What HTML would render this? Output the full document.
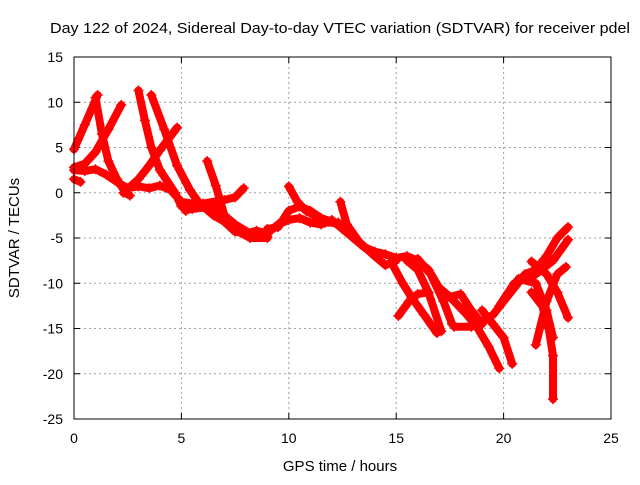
<!DOCTYPE html>
<html><head><meta charset="utf-8"><style>
body{margin:0;background:#fff;width:640px;height:480px;overflow:hidden}
svg{font-family:"Liberation Sans",sans-serif}
</style></head><body>
<svg id="chart" width="640" height="480">
<text x="340" y="33" font-size="15" text-anchor="middle" textLength="580" lengthAdjust="spacingAndGlyphs">Day 122 of 2024, Sidereal Day-to-day VTEC variation (SDTVAR) for receiver pdel</text>
<text x="340" y="471" font-size="15" text-anchor="middle">GPS time / hours</text>
<text transform="translate(19,238) rotate(-90)" font-size="15" text-anchor="middle">SDTVAR / TECUs</text>
<g id="grid"></g><g id="ticks"></g><g id="marks"></g>
<rect x="74" y="57" width="537" height="362" fill="none" stroke="#000"/>
</svg>
<script>
const xTicks=[0,5,10,15,20,25];
const yTicks=[15,10,5,0,-5,-10,-15,-20,-25];
const tracks=[
[[0,4.8],[0.5,7.5],[1.1,10.8]],
[[1.0,10.5],[1.3,6.5],[1.6,3.5],[2.0,1.5],[2.4,0],[2.6,-0.3]],
[[0,2.8],[0.5,3.2],[1.0,4.5],[1.6,7],[2.2,9.7]],
[[3.0,11.3],[3.3,8],[3.6,5],[4.0,2.5],[4.7,0],[5.0,-1.5],[5.5,-1.8],[6.5,-1.5],[7.5,-3.5],[8.2,-4.5],[9.0,-4.8]],
[[3.6,10.8],[4.2,7],[4.8,3],[5.4,0.3],[5.9,-1.4],[6.5,-2],[7.3,-3.5],[8,-4.5]],
[[2.3,0],[3,1.5],[3.5,3],[4,4.7],[4.8,7.2]],
[[0,2.5],[0.5,2.4],[1,2.6],[1.5,2],[2,1.2],[2.5,0.5],[3,0.7],[3.5,0.5],[4,0.8],[4.5,0.3],[5,-1],[5.5,-1.2],[6,-1.5],[6.5,-2.5],[7,-3.2],[7.5,-4.3],[8,-4.5],[8.5,-4.2],[9,-4.5],[9.5,-3.5],[10,-3],[10.5,-2.8],[11,-3.3],[11.5,-3.5],[12,-3],[12.5,-4],[13,-5],[13.5,-6],[14,-6.5],[14.5,-6.8],[15,-7.2],[15.5,-7],[16,-7.5],[16.5,-8.5],[17,-10.5],[17.5,-11.5],[18,-11.2],[18.5,-13],[19,-14.5]],
[[6.2,3.5],[6.6,0.8],[7,-2.5],[7.5,-4.1],[8.2,-5],[9,-5]],
[[5.2,-2],[6,-1.2],[7,-0.8],[7.5,-0.5],[7.9,0.5]],
[[0,1.5],[0.3,1.2]],
[[10,0.7],[10.4,-1],[10.8,-2],[11.2,-2.5],[11.7,-3.3],[12.3,-3.3]],
[[9,-4],[9.5,-3.8],[10,-2],[10.5,-1.5],[11,-2],[11.5,-2.8],[12,-3.2],[12.5,-3.8]],
[[12.4,-1],[12.7,-3.5],[13.3,-5.5],[14,-7],[14.5,-8],[15,-7.5]],
[[14.8,-7.8],[15.3,-10],[15.7,-11.5],[16.3,-13.5],[16.9,-15.5]],
[[15.1,-13.6],[15.6,-12],[16,-11.2],[16.5,-11]],
[[15.5,-7.5],[16,-8.5],[16.5,-11],[17.1,-15.3]],
[[16,-7.3],[16.6,-9],[17.2,-12],[17.6,-14.5]],
[[17.5,-11.5],[18.3,-13.5],[18.8,-15],[19.3,-17],[19.8,-19.4]],
[[19.0,-13],[19.5,-14.5],[20,-16],[20.4,-18.9]],
[[17.7,-14.8],[18.5,-14.8],[19.5,-13.5],[20.5,-10.5],[21,-9],[21.5,-8.5],[22,-7],[22.5,-5],[23,-3.8]],
[[19.8,-12.5],[20.5,-10],[21.5,-9],[22.3,-7.5],[23,-5.2]],
[[21.3,-7.6],[22,-9],[22.5,-11],[23,-13.8]],
[[21.5,-16.8],[22,-12],[22.5,-9],[22.9,-8.2]],
[[21.3,-11],[21.8,-12.5],[22.1,-15],[22.3,-18],[22.3,-22.8]],
[[20.7,-9.5],[21.5,-10],[22,-13],[22.3,-16]]
];
const X=t=>74+(t-0)*537/25;
const Y=v=>57+(15-v)*362/40;
const NS="http://www.w3.org/2000/svg";
const grid=document.getElementById('grid'),ticks=document.getElementById('ticks'),marks=document.getElementById('marks');
function mk(tag,attrs,parent){const e=document.createElementNS(NS,tag);for(const k in attrs)e.setAttribute(k,attrs[k]);parent.appendChild(e);return e;}
xTicks.forEach(t=>{
  const x=X(t);
  if(t>0&&t<25){const g=mk('line',{x1:x,x2:x,y1:57,y2:419,stroke:'#a0a0a0','stroke-dasharray':'2,3'},grid);
  
  }
  mk('line',{x1:x,x2:x,y1:419,y2:413,stroke:'#000'},ticks);
  mk('line',{x1:x,x2:x,y1:57,y2:63,stroke:'#000'},ticks);
  const l=mk('text',{x:x,y:443,'font-size':14,'text-anchor':'middle'},ticks);l.textContent=t;
  
  
});
yTicks.forEach(v=>{
  const y=Y(v);
  if(v<15&&v>-25){const g=mk('line',{x1:74,x2:611,y1:y,y2:y,stroke:'#a0a0a0','stroke-dasharray':'2,3'},grid);
  
  }
  mk('line',{x1:74,x2:80,y1:y,y2:y,stroke:'#000'},ticks);
  mk('line',{x1:611,x2:605,y1:y,y2:y,stroke:'#000'},ticks);
  const l=mk('text',{x:63,y:y+5,'font-size':14,'text-anchor':'end'},ticks);l.textContent=v;
  
  
});
tracks.forEach((tr,i)=>{
  const p=mk('polyline',{points:tr.map(d=>X(d[0])+','+Y(d[1])).join(' '),fill:'none',stroke:'#ff0000','stroke-width':8,'stroke-linejoin':'round','stroke-linecap':'round'},marks);
  
  
  tr.forEach(d=>{
    const x=X(d[0]),y=Y(d[1]);
    const m=mk('path',{d:`M${x-5},${y}H${x+5}M${x},${y-5}V${y+5}`,stroke:'#ff0000','stroke-width':1.5},marks);
    
    
  });
});
</script>
</body></html>
